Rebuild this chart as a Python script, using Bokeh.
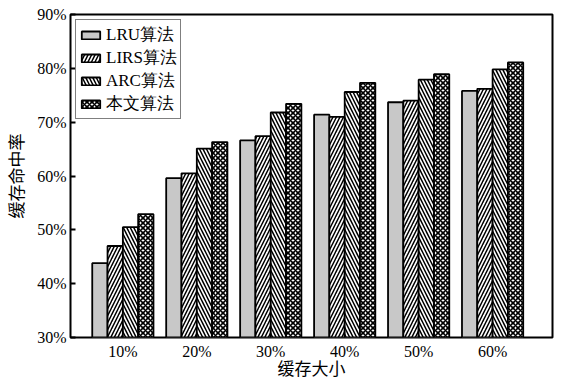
from bokeh.plotting import figure
from bokeh.models import ColumnDataSource, Range1d, FixedTicker, PrintfTickFormatter, Legend, LegendItem
from bokeh.transform import dodge
from bokeh.embed import file_html
from bokeh.resources import INLINE

categories = ["10%", "20%", "30%", "40%", "50%", "60%"]
lru = [43.8, 59.6, 66.6, 71.4, 73.7, 75.8]
lirs = [47.0, 60.5, 67.4, 71.0, 74.0, 76.2]
arc = [50.5, 65.1, 71.8, 75.6, 77.9, 79.8]
ours = [52.9, 66.3, 73.4, 77.3, 78.9, 81.1]
series_names = ["LRU算法", "LIRS算法", "ARC算法", "本文算法"]
y_ticks = [30, 40, 50, 60, 70, 80, 90]
x_title = "缓存大小"
y_title = "缓存命中率"

src = ColumnDataSource(dict(x=list(range(len(categories))), lru=lru, lirs=lirs, arc=arc, ours=ours))

LATIN = "Liberation Serif, Noto Sans CJK SC"
SERIF = "Liberation Serif"
CJK = "Noto Sans CJK SC"

p = figure(width=554, height=381, output_backend="svg", toolbar_location=None,
           x_range=Range1d(-0.708, 5.81), y_range=Range1d(y_ticks[0], y_ticks[-1]),
           min_border_left=64, min_border_right=2, min_border_top=14, min_border_bottom=30)
p.background_fill_color = "white"
p.border_fill_color = "white"
p.outline_line_color = "black"
p.outline_line_width = 2
p.grid.visible = False

w = 0.207
common = dict(source=src, width=w, bottom=y_ticks[0], line_color="black", line_width=1.8)
r1 = p.vbar(x=dodge("x", -0.3105, range=p.x_range), top="lru", fill_color="#c8c8c8", **common)
r2 = p.vbar(x=dodge("x", -0.1035, range=p.x_range), top="lirs", fill_color="white",
            hatch_pattern="right_diagonal_line", hatch_color="black", hatch_scale=7, hatch_weight=1.5, **common)
r3 = p.vbar(x=dodge("x", 0.1035, range=p.x_range), top="arc", fill_color="white",
            hatch_pattern="left_diagonal_line", hatch_color="black", hatch_scale=7, hatch_weight=1.5, **common)
r4 = p.vbar(x=dodge("x", 0.3105, range=p.x_range), top="ours", fill_color="white",
            hatch_pattern="diagonal_cross", hatch_color="black", hatch_scale=5, hatch_weight=1.6, **common)

# x axis
xa = p.xaxis[0]
xa.ticker = FixedTicker(ticks=list(range(len(categories))))
xa.major_label_overrides = {i: c for i, c in enumerate(categories)}
xa.major_tick_in = 0
xa.major_tick_out = 0
xa.major_tick_line_color = None
xa.minor_tick_line_color = None
xa.axis_line_color = None
xa.major_label_text_font = SERIF
xa.major_label_text_font_size = "16px"
xa.major_label_text_color = "black"
xa.major_label_standoff = 5
xa.axis_label = x_title
xa.axis_label_text_font = LATIN
xa.axis_label_text_font_style = "normal"
xa.axis_label_text_font_size = "17px"
xa.axis_label_text_color = "black"
xa.axis_label_standoff = -3

# y axis
ya = p.yaxis[0]
ya.ticker = FixedTicker(ticks=y_ticks)
ya.formatter = PrintfTickFormatter(format="%d%%")
ya.major_tick_in = 5
ya.major_tick_out = 0
ya.major_tick_line_width = 2
ya.minor_tick_line_color = None
ya.axis_line_color = None
ya.major_label_text_font = SERIF
ya.major_label_text_font_size = "16px"
ya.major_label_text_color = "black"
ya.major_label_standoff = 4
ya.axis_label = y_title
ya.axis_label_text_font = CJK
ya.axis_label_text_font_style = "normal"
ya.axis_label_text_font_size = "17px"
ya.axis_label_text_color = "black"
ya.axis_label_standoff = 6

legend = Legend(items=[LegendItem(label=n, renderers=[r]) for n, r in zip(series_names, [r1, r2, r3, r4])],
                location="top_left")
legend.border_line_color = "black"
legend.border_line_width = 1.5
legend.margin = 5
legend.padding = 3
legend.spacing = 0
legend.glyph_width = 23
legend.glyph_height = 10
legend.label_height = 18
legend.label_standoff = 4
legend.label_text_font = SERIF
legend.label_text_font_size = "17px"
legend.label_text_color = "black"
legend.label_text_baseline = "middle"
p.add_layout(legend)

open("out.html", "w").write(file_html(p, INLINE))
